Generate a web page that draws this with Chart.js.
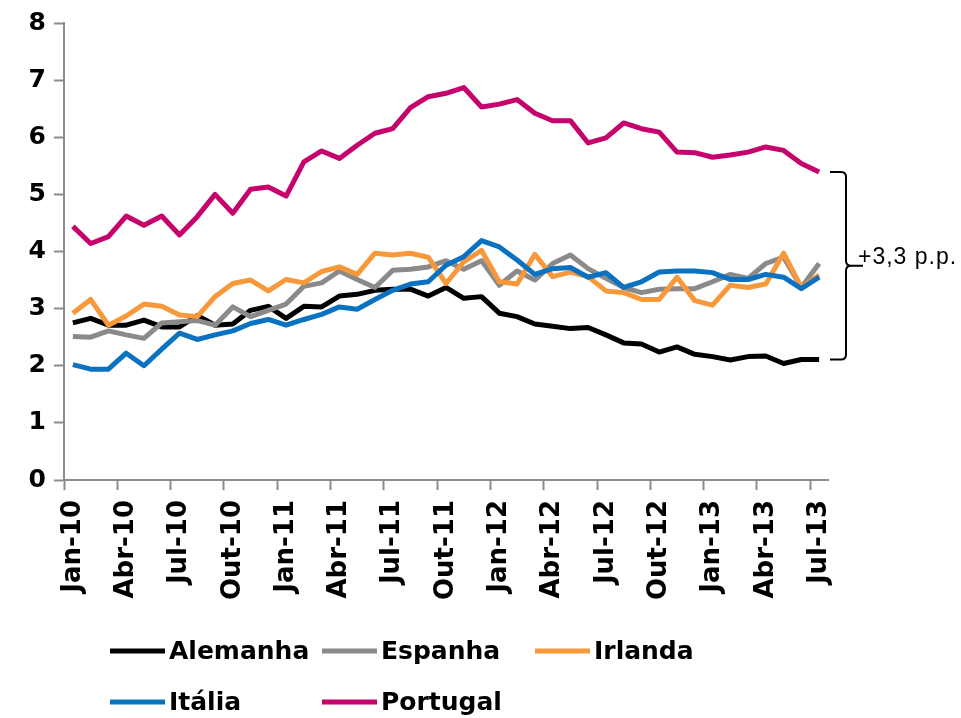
<!DOCTYPE html>
<html>
<head>
<meta charset="utf-8">
<script src="https://cdn.jsdelivr.net/npm/chart.js@4/dist/chart.umd.min.js"></script>
<style>
  html, body { margin: 0; padding: 0; background: #fff; }
  #wrap { width: 961px; height: 718px; }
</style>
</head>
<body>
<div id="wrap"><canvas id="grafico"></canvas></div>
<script>
const meses = [
  'Jan-10', 'Fev-10', 'Mar-10', 'Abr-10', 'Mai-10', 'Jun-10', 'Jul-10', 'Ago-10', 'Set-10', 'Out-10', 'Nov-10', 'Dez-10',
  'Jan-11', 'Fev-11', 'Mar-11', 'Abr-11', 'Mai-11', 'Jun-11', 'Jul-11', 'Ago-11', 'Set-11', 'Out-11', 'Nov-11', 'Dez-11',
  'Jan-12', 'Fev-12', 'Mar-12', 'Abr-12', 'Mai-12', 'Jun-12', 'Jul-12', 'Ago-12', 'Set-12', 'Out-12', 'Nov-12', 'Dez-12',
  'Jan-13', 'Fev-13', 'Mar-13', 'Abr-13', 'Mai-13', 'Jun-13', 'Jul-13'
];

const alemanha = [2.75, 2.83, 2.71, 2.71, 2.80, 2.68, 2.68, 2.88, 2.71, 2.73, 2.97, 3.04,
  2.83, 3.04, 3.03, 3.22, 3.25, 3.32, 3.34, 3.34, 3.22, 3.37, 3.18, 3.21,
  2.92, 2.86, 2.73, 2.69, 2.65, 2.67, 2.54, 2.40, 2.38, 2.24, 2.33, 2.20,
  2.16, 2.10, 2.16, 2.17, 2.04, 2.11, 2.11];

const espanha = [2.51, 2.50, 2.61, 2.54, 2.48, 2.75, 2.77, 2.79, 2.71, 3.03, 2.86, 2.97,
  3.08, 3.39, 3.45, 3.66, 3.51, 3.37, 3.67, 3.69, 3.73, 3.84, 3.69, 3.84,
  3.41, 3.66, 3.50, 3.79, 3.94, 3.70, 3.53, 3.37, 3.28, 3.34, 3.35, 3.35,
  3.47, 3.60, 3.53, 3.79, 3.90, 3.37, 3.79];

const irlanda = [2.92, 3.16, 2.71, 2.87, 3.08, 3.04, 2.89, 2.86, 3.21, 3.44, 3.50, 3.31,
  3.51, 3.45, 3.65, 3.73, 3.60, 3.97, 3.94, 3.97, 3.90, 3.44, 3.82, 4.02,
  3.47, 3.43, 3.95, 3.56, 3.64, 3.56, 3.31, 3.28, 3.16, 3.16, 3.55, 3.14,
  3.06, 3.41, 3.37, 3.43, 3.97, 3.37, 3.59];

const italia = [2.02, 1.94, 1.94, 2.22, 2.00, 2.29, 2.57, 2.46, 2.54, 2.61, 2.74, 2.81,
  2.71, 2.81, 2.90, 3.03, 2.99, 3.16, 3.32, 3.43, 3.47, 3.76, 3.91, 4.19,
  4.08, 3.85, 3.60, 3.70, 3.72, 3.55, 3.63, 3.37, 3.47, 3.64, 3.66, 3.66,
  3.63, 3.51, 3.51, 3.60, 3.55, 3.35, 3.55];

const portugal = [4.44, 4.14, 4.26, 4.62, 4.46, 4.62, 4.29, 4.61, 5.00, 4.67, 5.09, 5.13,
  4.97, 5.57, 5.76, 5.63, 5.86, 6.07, 6.15, 6.52, 6.71, 6.77, 6.87, 6.53,
  6.58, 6.66, 6.42, 6.29, 6.29, 5.90, 5.99, 6.25, 6.15, 6.09, 5.74, 5.73,
  5.65, 5.69, 5.74, 5.83, 5.77, 5.54, 5.39];

const textoDiferenca = '+3,3 p.p.';

const fonteEixo = { family: 'DejaVu Sans', size: 25, weight: 'bold' };
const cinzaEixo = '#8c8c8c';

// legenda em grelha, como no original (3 colunas)
const legendaPlugin = {
  id: 'legenda',
  afterDraw(chart) {
    const ctx = chart.ctx;
    const colunas = [110, 322, 535];
    const linhas = [651, 702];
    ctx.save();
    ctx.font = 'bold 25px "DejaVu Sans"';
    ctx.textBaseline = 'middle';
    chart.data.datasets.forEach((ds, i) => {
      const x = colunas[i % 3];
      const y = linhas[Math.floor(i / 3)];
      ctx.strokeStyle = ds.borderColor;
      ctx.lineWidth = 5;
      ctx.beginPath();
      ctx.moveTo(x, y);
      ctx.lineTo(x + 55, y);
      ctx.stroke();
      ctx.fillStyle = '#000';
      ctx.fillText(ds.label, x + 59, y + 1);
    });
    ctx.restore();
  }
};

// chaveta entre Portugal e Alemanha no último mês
const chavetaPlugin = {
  id: 'chaveta',
  afterDatasetsDraw(chart) {
    const ctx = chart.ctx;
    const y = chart.scales.y;
    const topo = y.getPixelForValue(portugal[portugal.length - 1]);
    const base = y.getPixelForValue(alemanha[alemanha.length - 1]);
    const meio = (topo + base) / 2;
    const x0 = chart.chartArea.right + 2;
    const xv = x0 + 16;
    const r = 5;
    ctx.save();
    ctx.strokeStyle = '#000';
    ctx.lineWidth = 2;
    ctx.beginPath();
    ctx.moveTo(x0, topo);
    ctx.lineTo(xv - r, topo);
    ctx.quadraticCurveTo(xv, topo, xv, topo + r);
    ctx.lineTo(xv, meio - r);
    ctx.quadraticCurveTo(xv, meio, xv + r, meio);
    ctx.lineTo(xv + 17, meio);
    ctx.moveTo(xv + r, meio);
    ctx.quadraticCurveTo(xv, meio, xv, meio + r);
    ctx.lineTo(xv, base - r);
    ctx.quadraticCurveTo(xv, base, xv - r, base);
    ctx.lineTo(x0, base);
    ctx.stroke();
    ctx.fillStyle = '#000';
    ctx.font = '23px "Liberation Sans"';
    ctx.textBaseline = 'alphabetic';
    ctx.letterSpacing = '1px';
    ctx.fillText(textoDiferenca, xv + 12, meio - 2);
    ctx.restore();
  }
};

function serie(label, data, cor, ordem) {
  return {
    label: label,
    data: data,
    borderColor: cor,
    backgroundColor: cor,
    borderWidth: 5,
    pointRadius: 0,
    pointHoverRadius: 0,
    tension: 0,
    fill: false,
    borderJoinStyle: 'round',
    order: ordem
  };
}

new Chart(document.getElementById('grafico'), {
  type: 'line',
  data: {
    labels: meses,
    datasets: [
      serie('Alemanha', alemanha, '#000000', 5),
      serie('Espanha', espanha, '#8a8a8a', 4),
      serie('Irlanda', irlanda, '#f7983a', 3),
      serie('Itália', italia, '#0a72c0', 2),
      serie('Portugal', portugal, '#c6036c', 1)
    ]
  },
  options: {
    responsive: true,
    maintainAspectRatio: false,
    animation: false,
    layout: { padding: { top: 23, right: 133, bottom: 100, left: 0 } },
    plugins: {
      legend: { display: false },
      tooltip: { enabled: false }
    },
    scales: {
      x: {
        offset: true,
        grid: {
          offset: true,
          drawOnChartArea: false,
          tickLength: 10,
          tickWidth: 2,
          tickColor: ctx => (ctx.index % 3 === 0 ? cinzaEixo : 'rgba(0,0,0,0)')
        },
        border: { color: cinzaEixo, width: 2 },
        ticks: {
          autoSkip: false,
          minRotation: 90,
          maxRotation: 90,
          padding: 10,
          color: '#000',
          font: { family: 'DejaVu Sans', size: 26, weight: 'bold' },
          callback: (v, i) => (i % 3 === 0 ? meses[i] : '')
        },
        afterFit: s => { s.height = 138; }
      },
      y: {
        min: 0,
        max: 8,
        ticks: { stepSize: 1, padding: 8, color: '#000', font: fonteEixo },
        grid: { drawOnChartArea: false, tickLength: 10, tickWidth: 2, tickColor: cinzaEixo },
        border: { color: cinzaEixo, width: 2 },
        afterFit: s => { s.width = 64; }
      }
    }
  },
  plugins: [chavetaPlugin, legendaPlugin]
});
</script>
</body>
</html>
